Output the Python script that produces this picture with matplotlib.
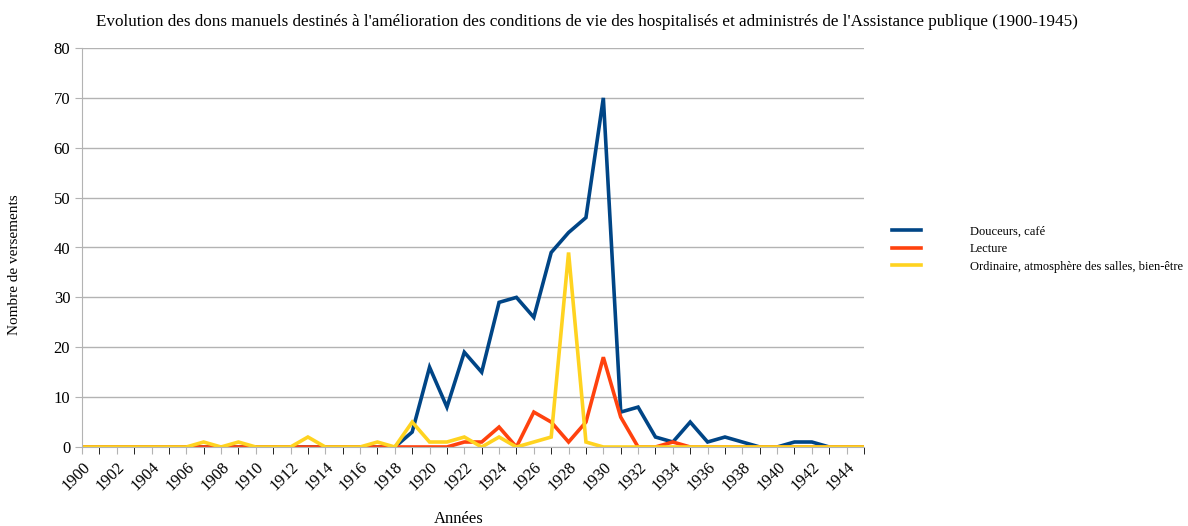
import numpy as np
import matplotlib
matplotlib.use('Agg')
import matplotlib.pyplot as plt
from matplotlib.ticker import MultipleLocator

plt.rcParams['font.family'] = ['Liberation Serif', 'DejaVu Serif']

years = np.arange(1900, 1946)

douceurs = [0, 0, 0, 0, 0, 0, 0, 0, 0, 0,
            0, 0, 0, 0, 0, 0, 0, 0, 0, 3,
            16, 8, 19, 15, 29, 30, 26, 39, 43, 46,
            70, 7, 8, 2, 1, 5, 1, 2, 1, 0,
            0, 1, 1, 0, 0, 0]
lecture = [0, 0, 0, 0, 0, 0, 0, 0, 0, 0,
           0, 0, 0, 0, 0, 0, 0, 0, 0, 0,
           0, 0, 1, 1, 4, 0, 7, 5, 1, 5,
           18, 6, 0, 0, 1, 0, 0, 0, 0, 0,
           0, 0, 0, 0, 0, 0]
ordinaire = [0, 0, 0, 0, 0, 0, 0, 1, 0, 1,
             0, 0, 0, 2, 0, 0, 0, 1, 0, 5,
             1, 1, 2, 0, 2, 0, 1, 2, 39, 1,
             0, 0, 0, 0, 0, 0, 0, 0, 0, 0,
             0, 0, 0, 0, 0, 0]

labels = ['Douceurs, café', 'Lecture', 'Ordinaire, atmosphère des salles, bien-être']
colors = ['#004586', '#ff420e', '#ffd320']

fig = plt.figure(figsize=(11.88, 5.26), dpi=100)
ax = fig.add_axes([82/1188, 1 - 447/526, (864-82)/1188, (447-48)/526])

for ys, lab, c in zip([douceurs, lecture, ordinaire], labels, colors):
    ax.plot(years, ys, color=c, lw=2.6, label=lab, solid_joinstyle='miter')

ax.set_xlim(1900, 1945)
ax.set_ylim(0, 80)
ax.yaxis.set_major_locator(MultipleLocator(10))
ax.xaxis.set_major_locator(MultipleLocator(2))
ax.xaxis.set_minor_locator(MultipleLocator(1))
ax.grid(axis='y', color='#b3b3b3', lw=1)
ax.set_axisbelow(True)
for s in ['top', 'right']:
    ax.spines[s].set_visible(False)
for s in ['left', 'bottom']:
    ax.spines[s].set_color('#b3b3b3')
ax.tick_params(axis='both', colors='#b3b3b3', labelcolor='black', labelsize=12)
ax.tick_params(axis='x', which='both', length=5, direction='out')
ax.tick_params(axis='y', length=5)
for t in ax.get_xticklabels():
    t.set_rotation(45)
    t.set_ha('right')
    t.set_va('top')
    t.set_rotation_mode('anchor')

ax.set_xlabel('Années', fontsize=12)
ax.xaxis.set_label_coords(0.482, -0.16)
fig.text(15/1188, 1 - 265/526, 'Nombre de versements', rotation=90,
         ha='center', va='center', fontsize=11)
fig.text(587/1188, 1 - 22/526,
         "Evolution des dons manuels destinés à l'amélioration des conditions de vie des hospitalisés et administrés de l'Assistance publique (1900-1945)",
         ha='center', va='center', fontsize=12.3)

ax.legend(loc='center left', bbox_to_anchor=(881/1188, 1 - 249/526),
          bbox_transform=fig.transFigure, frameon=False, fontsize=9,
          handlelength=2.3, handletextpad=3.9, labelspacing=0.45)

fig.savefig('out.png', dpi=100)
